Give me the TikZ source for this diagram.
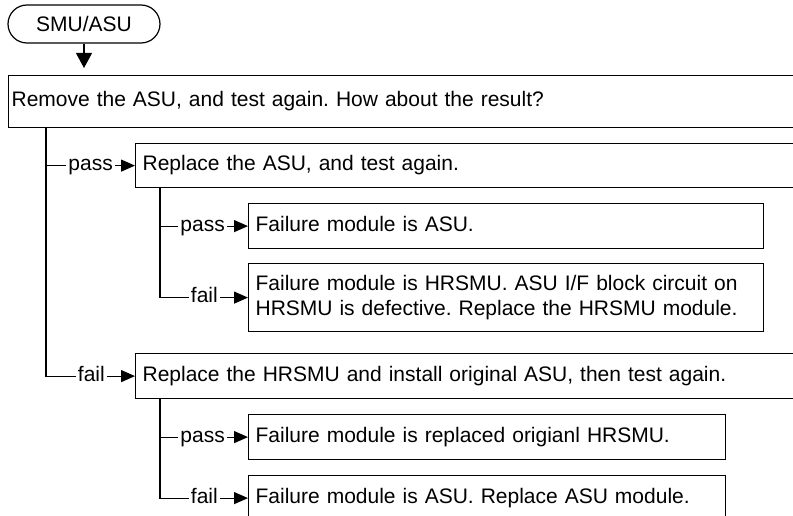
\documentclass[tikz,border=0pt]{standalone}
\usepackage{fontspec}
\setmainfont{Liberation Sans}
\usetikzlibrary{arrows.meta,positioning}
\frenchspacing

\begin{document}
\begin{tikzpicture}[
    x=1pt, y=-1pt,
    font=\fontsize{21}{25}\selectfont,
    term/.style={rectangle, draw, line width=1.2pt, rounded corners=19pt, minimum width=152pt, minimum height=38pt},
    block/.style={rectangle, draw, line width=1.2pt, anchor=north west, align=left, inner xsep=7pt, text height=15pt, text depth=4.5pt},
    lbl/.style={inner xsep=2pt, inner ysep=0pt, text height=15pt, text depth=4.5pt},
    line/.style={draw, line width=1.2pt},
    arr/.style={line, -{Triangle[width=12pt,length=14pt]}}
]
\useasboundingbox (0,0) rectangle (793,516);
\clip (0,0) rectangle (793,516);

\node[term] (start) at (84,24) {SMU/ASU};

\node[block, inner xsep=3pt, text width=786pt, minimum height=52pt] (q1) at (8,75) {Remove the ASU, and test again. How about the result?};

\node[block, text width=651pt, minimum height=44pt] (r1) at (135,143) {Replace the ASU, and test again.};
\node[block, text width=501pt, minimum height=45pt] (a1) at (248,203) {Failure module is ASU.};
\node[block, text width=501pt, minimum height=68pt, text height=, text depth=] (a2) at (248,263) {Failure module is HRSMU. ASU I/F block circuit on\\HRSMU is defective. Replace the HRSMU module.};

\node[block, text width=651pt, minimum height=45pt] (r2) at (135,353) {Replace the HRSMU and install original ASU, then test again.};
\node[block, text width=463pt, minimum height=45pt] (a3) at (248,414) {Failure module is replaced origianl HRSMU.};
\node[block, text width=463pt, minimum height=45pt] (a4) at (248,475) {Failure module is ASU. Replace ASU module.};

\node[lbl, left=20pt of r1.west] (pass1) {pass};
\node[lbl, left=28pt of r2.west] (fail1) {fail};
\node[lbl, left=21pt of a1.west] (pass2) {pass};
\node[lbl, left=28pt of a2.west] (fail2) {fail};
\node[lbl, left=21pt of a3.west] (pass3) {pass};
\node[lbl, left=28pt of a4.west] (fail3) {fail};

\draw[line, -{Triangle[width=16pt,length=15pt]}, shorten >=7pt] (start.south) -- (start |- q1.north);

\draw[line] ([xshift=38pt]q1.south west) |- (pass1.west);
\draw[line] ([xshift=38pt]q1.south west) |- (fail1.west);
\draw[arr] (pass1.east) -- (r1.west);
\draw[arr] (fail1.east) -- (r2.west);

\draw[line] ([xshift=25pt]r1.south west) |- (pass2.west);
\draw[line] ([xshift=25pt]r1.south west) |- (fail2.west);
\draw[arr] (pass2.east) -- (a1.west);
\draw[arr] (fail2.east) -- (a2.west);

\draw[line] ([xshift=25pt]r2.south west) |- (pass3.west);
\draw[line] ([xshift=25pt]r2.south west) |- (fail3.west);
\draw[arr] (pass3.east) -- (a3.west);
\draw[arr] (fail3.east) -- (a4.west);

\end{tikzpicture}
\end{document}
